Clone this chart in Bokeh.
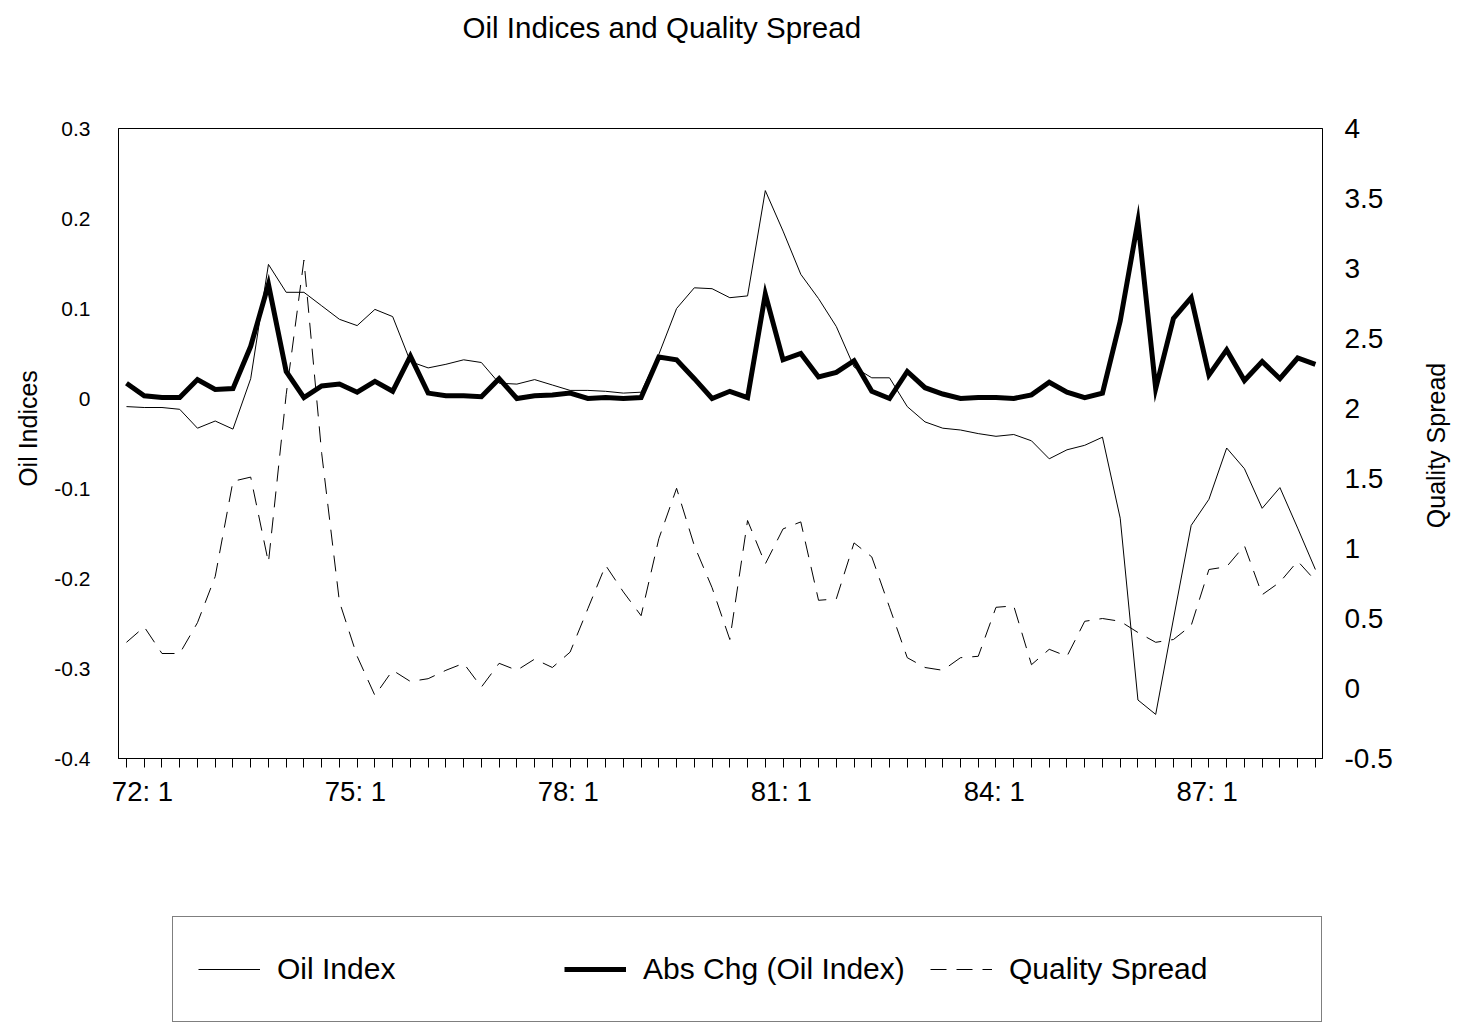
import math
from bokeh.plotting import figure
from bokeh.models import (ColumnDataSource, Range1d, LinearAxis, FixedTicker,
                          Legend, LegendItem, Label)
from bokeh.layouts import column, row
from bokeh.embed import file_html
from bokeh.resources import INLINE

# ---------------- data ----------------
quarters = ["72:1", "72:2", "72:3", "72:4", "73:1", "73:2", "73:3", "73:4",
            "74:1", "74:2", "74:3", "74:4", "75:1", "75:2", "75:3", "75:4",
            "76:1", "76:2", "76:3", "76:4", "77:1", "77:2", "77:3", "77:4",
            "78:1", "78:2", "78:3", "78:4", "79:1", "79:2", "79:3", "79:4",
            "80:1", "80:2", "80:3", "80:4", "81:1", "81:2", "81:3", "81:4",
            "82:1", "82:2", "82:3", "82:4", "83:1", "83:2", "83:3", "83:4",
            "84:1", "84:2", "84:3", "84:4", "85:1", "85:2", "85:3", "85:4",
            "86:1", "86:2", "86:3", "86:4", "87:1", "87:2", "87:3", "87:4",
            "88:1", "88:2", "88:3", "88:4"]

oil_index = [-0.009, -0.010, -0.010, -0.012, -0.033, -0.025, -0.034, 0.022, 0.149, 0.118,
             0.118, 0.103, 0.088, 0.081, 0.099, 0.091, 0.041, 0.034, 0.038, 0.043,
             0.040, 0.017, 0.016, 0.021, 0.015, 0.009, 0.009, 0.008, 0.006, 0.007,
             0.049, 0.100, 0.123, 0.122, 0.112, 0.114, 0.231, 0.186, 0.138, 0.111,
             0.080, 0.035, 0.023, 0.023, -0.009, -0.026, -0.033, -0.035, -0.039, -0.042,
             -0.040, -0.047, -0.067, -0.057, -0.052, -0.043, -0.133, -0.335, -0.351, -0.245,
             -0.141, -0.112, -0.055, -0.078, -0.122, -0.099, -0.144, -0.190]

abs_chg = [0.017, 0.003, 0.001, 0.001, 0.021, 0.010, 0.011, 0.058, 0.127, 0.030,
           0.001, 0.014, 0.016, 0.007, 0.019, 0.008, 0.047, 0.006, 0.003, 0.003,
           0.002, 0.022, 0.000, 0.003, 0.004, 0.006, 0.000, 0.001, 0.000, 0.001,
           0.046, 0.043, 0.022, 0.000, 0.008, 0.001, 0.116, 0.043, 0.050, 0.024,
           0.029, 0.042, 0.008, 0.000, 0.030, 0.012, 0.005, 0.000, 0.001, 0.001,
           0.000, 0.004, 0.018, 0.007, 0.001, 0.006, 0.086, 0.197, 0.011, 0.089,
           0.112, 0.026, 0.054, 0.020, 0.041, 0.022, 0.045, 0.038]

quality_spread = [0.33, 0.44, 0.25, 0.25, 0.47, 0.80, 1.48, 1.51, 0.90, 2.10,
                  3.06, 1.68, 0.62, 0.23, -0.05, 0.13, 0.05, 0.07, 0.13, 0.18,
                  0.01, 0.18, 0.13, 0.21, 0.15, 0.26, 0.57, 0.88, 0.69, 0.52,
                  1.07, 1.43, 1.02, 0.72, 0.35, 1.20, 0.89, 1.14, 1.19, 0.63,
                  0.64, 1.04, 0.94, 0.58, 0.22, 0.15, 0.13, 0.22, 0.23, 0.58,
                  0.59, 0.17, 0.28, 0.23, 0.48, 0.50, 0.48, 0.40, 0.33, 0.35,
                  0.45, 0.85, 0.87, 1.02, 0.67, 0.76, 0.91, 0.77]

x_label_every = 12
x_tick_labels = ["72: 1", "75: 1", "78: 1", "81: 1", "84: 1", "87: 1"]
left_ticks = [-0.4, -0.3, -0.2, -0.1, 0.0, 0.1, 0.2, 0.3]
left_tick_labels = ["-0.4", "-0.3", "-0.2", "-0.1", "0", "0.1", "0.2", "0.3"]
right_ticks = [-0.5, 0.0, 0.5, 1.0, 1.5, 2.0, 2.5, 3.0, 3.5, 4.0]
right_tick_labels = ["-0.5", "0", "0.5", "1", "1.5", "2", "2.5", "3", "3.5", "4"]
series_names = ["Oil Index", "Abs Chg (Oil Index)", "Quality Spread"]
left_axis_title = "Oil Indices"
right_axis_title = "Quality Spread"
title_text = "Oil Indices and Quality Spread"

FONT = "Liberation Sans"
SIDE_W = 40                      # strips carrying the two axis titles
PAGE_W = 1458
W = PAGE_W - 2 * SIDE_W          # width of the central column
FRAME_L, FRAME_R = 118 - SIDE_W, 1322 - SIDE_W   # frame edges inside the column
TOP_H, MAIN_H, LEG_H = 60, 838, 126
TOTAL_H = TOP_H + MAIN_H + LEG_H

idx = list(range(len(quarters)))
src = ColumnDataSource(dict(x=idx, q=quarters, oil=oil_index, chg=abs_chg, qs=quality_spread))
xr = Range1d(-0.45, len(quarters) - 1 + 0.4)


def blank(height, width=W, x_range=xr, y_range=None, aligned=True):
    kw = dict(min_border_left=FRAME_L, min_border_right=W - FRAME_R) if aligned else dict(min_border=0)
    f = figure(width=width, height=height, output_backend="svg", toolbar_location=None,
               x_range=x_range, y_range=y_range or Range1d(0, 1),
               x_axis_type=None, y_axis_type=None,
               min_border_top=0, min_border_bottom=0, **kw)
    f.outline_line_color = None
    f.xgrid.visible = False
    f.ygrid.visible = False
    f.background_fill_color = "white"
    f.border_fill_color = "white"
    return f


# ---------------- title strip ----------------
pt = blank(TOP_H)
pt.add_layout(Label(x=30.17, y=0.55, text=title_text, text_align="center",
                    text_baseline="middle", text_font=FONT, text_font_size="29.5px",
                    text_color="black"))

# ---------------- main figure ----------------
p = figure(width=W, height=MAIN_H, output_backend="svg", toolbar_location=None,
           x_range=xr, y_range=Range1d(-0.4, 0.3),
           min_border_left=FRAME_L, min_border_right=W - FRAME_R,
           min_border_top=128 - TOP_H, min_border_bottom=TOP_H + MAIN_H - 758)
p.extra_y_ranges = {"qs": Range1d(-0.5, 4.0)}
p.background_fill_color = "white"
p.border_fill_color = "white"
p.outline_line_color = "black"
p.outline_line_width = 1
p.xgrid.visible = False
p.ygrid.visible = False

# x axis
xa = p.xaxis[0]
label_pos = [i * x_label_every + 0.9 for i in range(len(x_tick_labels))]
xa.ticker = FixedTicker(ticks=label_pos, minor_ticks=idx)
xa.major_label_overrides = {pos: lab for pos, lab in zip(label_pos, x_tick_labels)}
xa.major_tick_out = 0
xa.major_tick_in = 0
xa.minor_tick_out = 9
xa.minor_tick_in = 0
xa.minor_tick_line_color = "black"
xa.axis_line_color = "black"
xa.major_label_text_font = FONT
xa.major_label_text_font_size = "27.5px"
xa.major_label_text_color = "black"
xa.major_label_standoff = 8

# left axis (its title is drawn in the left strip)
ya = p.yaxis[0]
ya.ticker = FixedTicker(ticks=left_ticks)
ya.major_label_overrides = {t: l for t, l in zip(left_ticks, left_tick_labels)}
ya.major_tick_out = 0
ya.major_tick_in = 0
ya.minor_tick_out = 0
ya.minor_tick_in = 0
ya.axis_line_color = "black"
ya.major_label_text_font = FONT
ya.major_label_text_font_size = "21px"
ya.major_label_text_color = "black"
ya.major_label_standoff = 28

# right axis (its title is drawn in the right strip)
ra = LinearAxis(y_range_name="qs", ticker=FixedTicker(ticks=right_ticks))
ra.major_label_overrides = {t: l for t, l in zip(right_ticks, right_tick_labels)}
ra.major_tick_out = 0
ra.major_tick_in = 0
ra.minor_tick_out = 0
ra.minor_tick_in = 0
ra.axis_line_color = "black"
ra.major_label_text_font = FONT
ra.major_label_text_font_size = "28px"
ra.major_label_text_color = "black"
ra.major_label_standoff = 22
p.add_layout(ra, "right")

# lines
styles = [dict(line_color="black", line_width=1),
          dict(line_color="black", line_width=5, line_join="miter"),
          dict(line_color="black", line_width=1, line_dash="16 10")]
p.line("x", "oil", source=src, **styles[0])
p.line("x", "chg", source=src, **styles[1])
p.line("x", "qs", source=src, y_range_name="qs", **styles[2])

# ---------------- legend strip ----------------
pl = blank(LEG_H)
nan = float("nan")
dummies = [pl.line(x=[nan, nan], y=[nan, nan], **st) for st in styles]

legend = Legend(items=[LegendItem(label=n, renderers=[r]) for n, r in zip(series_names, dummies)],
                orientation="horizontal", location=(172 - 118, 2),
                glyph_width=62, glyph_height=54, label_standoff=17,
                label_width=287, spacing=0, padding=25, margin=0,
                label_text_font=FONT, label_text_font_size="30px",
                label_text_color="black",
                border_line_color="black", border_line_width=1,
                background_fill_color="white", background_fill_alpha=1.0)
pl.add_layout(legend, "center")

# ---------------- axis title strips ----------------
pleft = blank(TOTAL_H, width=SIDE_W, x_range=Range1d(0, SIDE_W),
              y_range=Range1d(0, TOTAL_H), aligned=False)
pleft.add_layout(Label(x=27, y=TOTAL_H - 428, text=left_axis_title, angle=math.pi / 2,
                       text_align="center", text_baseline="middle", text_font=FONT,
                       text_font_size="25px", text_color="black"))

pr = blank(TOTAL_H, width=SIDE_W, x_range=Range1d(0, SIDE_W),
           y_range=Range1d(0, TOTAL_H), aligned=False)
pr.add_layout(Label(x=1435 - (PAGE_W - SIDE_W), y=TOTAL_H - 445, text=right_axis_title,
                    angle=math.pi / 2, text_align="center", text_baseline="middle",
                    text_font=FONT, text_font_size="25px", text_color="black"))

layout = row(pleft, column(pt, p, pl, spacing=0), pr, spacing=0)
open("out.html", "w").write(file_html(layout, INLINE))
